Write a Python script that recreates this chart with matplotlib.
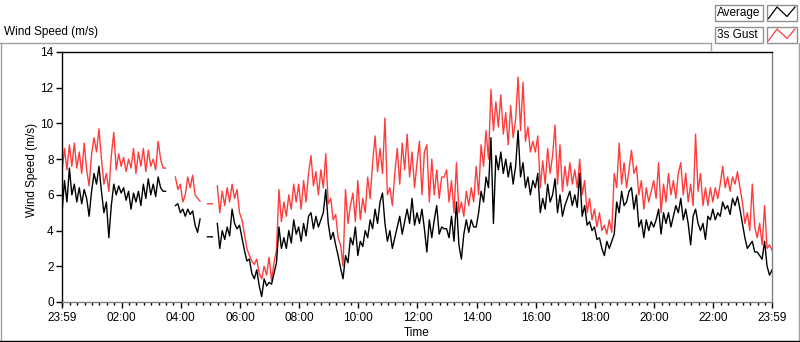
import numpy as np
import matplotlib
matplotlib.use("Agg")
import matplotlib.pyplot as plt
from matplotlib.patches import Rectangle

nan = np.nan

# minutes after 23:59 (5-minute samples)
minutes = np.arange(0, 1441, 5)

gust = [
    7.3, 8.6, 7.4, 8.8, 7.6, 8.9, 7.5, 8.4, 7.2, 8.9,
    7.4, 6.5, 8.3, 9.2, 8.4, 9.7, 8.0, 6.6, 7.2, 6.2,
    8.2, 9.5, 7.4, 8.3, 7.6, 8.1, 7.3, 8.0, 7.5, 8.6,
    7.2, 8.4, 7.6, 8.6, 7.3, 8.5, 7.6, 8.0, 7.4, 9.0,
    8.0, 7.5, 7.5, nan, nan, nan, 7.0, 6.3, 6.6, 5.6,
    6.0, 7.0, 6.4, 7.1, 6.0, 5.8, 5.65, nan, nan, 5.5,
    5.5, 5.5, nan, 6.5, 5.0, 6.2, 5.4, 6.4, 5.6, 6.6,
    5.8, 6.3, 5.0, 4.6, 3.8, 3.0, 2.6, 2.3, 2.1, 2.4,
    1.6, 1.3, 2.0, 1.5, 2.5, 1.2, 2.2, 2.9, 6.3, 4.5,
    5.6, 4.8, 6.0, 5.2, 6.6, 5.6, 6.6, 5.2, 6.8, 5.6,
    7.2, 8.2, 6.5, 7.3, 6.0, 7.4, 6.4, 8.3, 5.5, 5.8,
    4.6, 4.9, 3.6, 3.2, 2.0, 6.3, 4.4, 5.4, 6.1, 4.5,
    6.8, 4.6, 5.8, 5.0, 7.0, 5.8, 7.8, 9.3, 7.3, 8.6,
    7.2, 10.3, 6.0, 6.4, 5.4, 7.2, 8.6, 6.6, 8.9, 7.4,
    9.4, 7.0, 8.4, 6.4, 7.8, 9.0, 6.0, 8.4, 8.8, 5.6,
    8.0, 6.0, 7.4, 5.8, 7.0, 7.0, 7.4, 5.6, 6.8, 5.0,
    7.8, 5.0, 5.6, 4.8, 6.2, 5.4, 6.4, 5.6, 7.6, 6.0,
    8.8, 7.6, 9.6, 8.0, 11.9, 9.6, 11.2, 9.8, 11.6, 9.4,
    10.6, 8.8, 11.0, 9.2, 10.2, 12.6, 9.6, 12.3, 9.0, 9.8,
    8.4, 9.0, 8.4, 9.3, 6.4, 7.9, 6.6, 8.6, 7.2, 8.2,
    9.9, 6.6, 8.8, 6.2, 7.6, 6.5, 7.8, 6.6, 7.4, 6.4,
    8.0, 6.0, 6.8, 5.0, 5.8, 4.6, 5.2, 4.2, 5.0, 4.0,
    4.3, 3.8, 4.6, 3.9, 7.2, 6.4, 8.9, 6.6, 7.8, 6.4,
    7.4, 8.5, 7.2, 7.6, 6.0, 6.8, 5.2, 6.4, 5.6, 6.2,
    6.8, 5.8, 7.8, 5.0, 6.6, 5.6, 7.2, 6.0, 6.8, 5.8,
    7.2, 7.8, 6.0, 7.2, 5.6, 6.6, 5.4, 9.4, 6.2, 7.2,
    5.4, 6.4, 5.4, 6.4, 5.6, 6.4, 5.8, 6.6, 7.6, 6.4,
    7.0, 6.2, 7.0, 6.6, 7.3, 6.4, 5.6, 4.4, 5.0, 4.0,
    6.6, 4.2, 3.6, 4.4, 3.2, 5.4, 3.0, 3.2, 2.9,
]

average = [
    5.0, 6.8, 5.6, 7.5, 6.0, 6.6, 5.6, 6.4, 5.5, 6.3,
    5.8, 4.8, 6.2, 7.2, 6.6, 7.6, 6.2, 5.0, 5.6, 3.6,
    5.4, 6.6, 6.0, 6.5, 6.1, 6.4, 5.7, 6.2, 5.2, 6.1,
    5.6, 6.2, 5.4, 6.6, 5.8, 6.9, 6.0, 6.6, 5.9, 7.0,
    6.4, 6.2, 6.2, nan, nan, nan, 5.4, 5.5, 5.0, 5.2,
    4.8, 5.2, 4.9, 5.1, 4.3, 3.9, 4.65, nan, nan, 3.65,
    3.65, 3.65, nan, 4.4, 3.0, 4.0, 3.5, 4.2, 3.7, 5.2,
    4.4, 4.1, 4.3, 3.6, 2.9, 2.3, 2.4, 1.6, 1.3, 1.8,
    0.9, 0.3, 1.3, 0.9, 1.1, 1.0, 1.6, 2.2, 4.2, 3.0,
    3.6, 3.0, 4.0, 3.3, 4.6, 3.8, 4.2, 3.4, 4.4, 3.7,
    4.8, 5.0, 4.1, 4.8, 4.2, 4.6, 5.0, 6.3, 4.4, 3.5,
    3.9, 3.2, 2.6, 1.9, 1.3, 2.6, 2.2, 3.6, 3.2, 4.2,
    2.6, 3.4, 3.1, 4.0, 3.6, 4.6, 4.1, 5.2, 4.4, 5.6,
    6.1, 4.4, 3.4, 4.0, 3.0, 3.6, 4.2, 4.8, 3.8, 4.5,
    5.2, 4.4, 5.8, 4.3, 5.0, 4.4, 5.2, 4.1, 2.8, 4.6,
    3.6, 4.6, 5.4, 3.8, 4.2, 4.1, 4.1, 3.6, 4.8, 3.4,
    5.6, 3.2, 2.4, 3.8, 4.6, 3.9, 4.6, 4.2, 4.2, 5.0,
    6.2, 5.6, 7.0, 6.4, 9.2, 4.4, 8.2, 7.4, 8.4, 7.2,
    8.0, 7.0, 7.8, 6.6, 7.6, 9.6, 7.0, 7.8, 6.4, 7.0,
    6.0, 6.8, 6.4, 7.2, 5.0, 5.8, 5.2, 6.6, 5.6, 6.0,
    6.9, 5.0, 6.0, 4.8, 5.4, 5.8, 6.2, 5.4, 6.0, 5.3,
    7.2, 4.8, 5.4, 4.3, 4.5, 4.0, 4.2, 3.5, 3.6, 3.0,
    2.6, 3.4, 3.0, 3.4, 3.8, 5.6, 5.0, 6.2, 5.4, 5.6,
    6.2, 6.4, 5.2, 6.0, 4.2, 4.6, 3.6, 4.6, 4.0, 4.5,
    4.2, 4.6, 5.2, 3.8, 5.0, 4.4, 5.0, 4.2, 4.8, 5.4,
    5.0, 5.8, 4.6, 5.2, 4.4, 3.2, 4.8, 5.2, 4.4, 4.0,
    4.4, 3.5, 4.8, 4.6, 5.2, 4.6, 5.0, 4.8, 5.6, 5.2,
    5.4, 4.9, 5.8, 5.4, 5.9, 5.2, 4.4, 3.6, 3.0, 3.2,
    3.4, 2.8, 2.8, 2.6, 2.4, 3.4, 2.0, 1.5, 1.8,
]

series_names = ["Average", "3s Gust"]
series_colors = ["#000000", "#ff3c3c"]

x_tick_labels = ["23:59", "02:00", "04:00", "06:00", "08:00", "10:00", "12:00",
                 "14:00", "16:00", "18:00", "20:00", "22:00", "23:59"]
x_tick_pos = [0, 121, 241, 361, 481, 601, 721, 841, 961, 1081, 1201, 1321, 1440]
y_ticks = [0, 2, 4, 6, 8, 10, 12, 14]

FONT = "Liberation Sans"
plt.rcParams["font.family"] = [FONT, "DejaVu Sans"]

W, H = 800, 342
fig = plt.figure(figsize=(W / 100, H / 100), dpi=100)
fig.patch.set_facecolor("white")

# overlay for frame/legend decoration in pixel coordinates
ov = fig.add_axes([0, 0, 1, 1])
ov.set_xlim(0, W)
ov.set_ylim(H, 0)
ov.axis("off")

gray = "#a0a0a0"
ov.plot([0, 711], [42.5, 42.5], color=gray, lw=1)
ov.plot([711, 711], [42.5, 50], color=gray, lw=1)
ov.plot([1, 1], [42.5, 341], color=gray, lw=1)
ov.plot([799, 799], [42.5, 341], color=gray, lw=1)
ov.plot([0, 799], [340.5, 340.5], color="#000000", lw=1)

# legend panel
for k, (name, col) in enumerate(zip(series_names, series_colors)):
    y0 = 4.5 + 22 * k
    ov.add_patch(Rectangle((714.5, y0), 48, 16.5, fill=False, ec="#909090", lw=1))
    ov.add_patch(Rectangle((766.5, y0), 30, 16.5, fill=False, ec="#909090", lw=1))
    ov.text(717, y0 + 8.5, name, ha="left", va="center", fontsize=8.5, color="black")
    ov.plot([768.5, 777, 787, 795], [y0 + 14, y0 + 2.5, y0 + 12, y0 + 2.5], color=col, lw=0.9)

# main chart
ax = fig.add_axes([62 / W, (H - 302) / H, 710 / W, 250 / H])
ax.plot(minutes, gust, color=series_colors[1], lw=1.0, zorder=2)
ax.plot(minutes, average, color=series_colors[0], lw=1.0, zorder=3)

ax.set_xlim(0, 1440)
ax.set_ylim(0, 14)
ax.set_xticks(x_tick_pos)
ax.set_xticklabels(x_tick_labels)
ax.set_xticks(np.arange(1, 1440, 15), minor=True)
ax.set_yticks(y_ticks)
ax.set_yticklabels([str(v) for v in y_ticks])
ax.tick_params(axis="x", which="major", length=4, width=1, pad=3, labelsize=8.5, direction="out")
ax.tick_params(axis="x", which="minor", length=2.5, width=1, direction="out")
ax.tick_params(axis="y", which="major", length=4, width=1, pad=2, labelsize=8.5, direction="out")

ax.spines["top"].set_color("#000000")
ax.spines["left"].set_color("#000000")
ax.spines["right"].set_color("#808080")
ax.spines["bottom"].set_color("#808080")
for s in ax.spines.values():
    s.set_linewidth(1)

fig.text(4 / W, 1 - 32 / H, "Wind Speed (m/s)", ha="left", va="center", fontsize=8.5)
fig.text(32 / W, 1 - 170 / H, "Wind Speed (m/s)", ha="center", va="center",
         rotation=90, fontsize=8.5)
fig.text(417 / W, 1 - 333 / H, "Time", ha="center", va="center", fontsize=8.5)

fig.savefig("out.png", dpi=100)
